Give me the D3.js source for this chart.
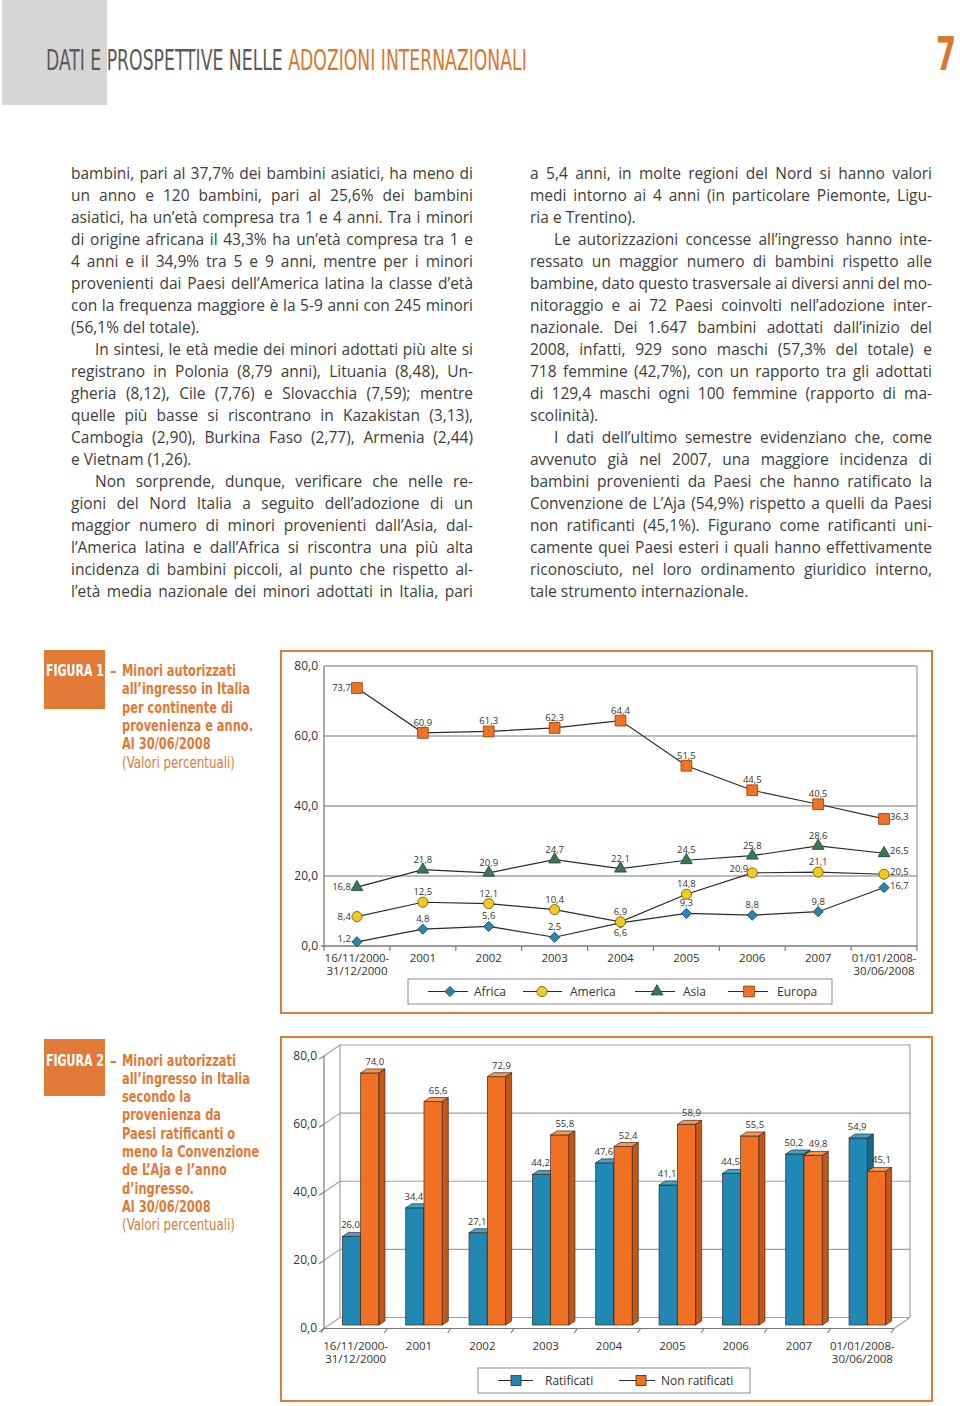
<!DOCTYPE html>
<html><head><meta charset="utf-8">
<script src="https://cdn.jsdelivr.net/npm/d3@7"></script>
<style>
html,body{margin:0;padding:0;background:#fff;}
svg{display:block;}
</style></head>
<body>
<svg id="page" width="960" height="1406"></svg>
<script>
// ---------------- DATA ----------------
const categories = ["16/11/2000-\n31/12/2000","2001","2002","2003","2004","2005","2006","2007","01/01/2008-\n30/06/2008"];
const africa  = [1.2, 4.8, 5.6, 2.5, 6.6, 9.3, 8.8, 9.8, 16.7];
const america = [8.4, 12.5, 12.1, 10.4, 6.9, 14.8, 20.9, 21.1, 20.5];
const asia    = [16.8, 21.8, 20.9, 24.7, 22.1, 24.5, 25.8, 28.6, 26.5];
const europa  = [73.7, 60.9, 61.3, 62.3, 64.4, 51.5, 44.5, 40.5, 36.3];
const ratificati    = [26.0, 34.4, 27.1, 44.2, 47.6, 41.1, 44.5, 50.2, 54.9];
const nonRatificati = [74.0, 65.6, 72.9, 55.8, 52.4, 58.9, 55.5, 49.8, 45.1];
const yTicks = [0, 20, 40, 60, 80];
const seriesNames1 = ["Africa", "America", "Asia", "Europa"];
const seriesNames2 = ["Ratificati", "Non ratificati"];

const headerGrey = "DATI E PROSPETTIVE NELLE ";
const headerOrange = "ADOZIONI INTERNAZIONALI";
const pageNumber = "7";
const fig1Caption = ["Minori autorizzati","all’ingresso in Italia","per continente di","provenienza e anno.","Al 30/06/2008","(Valori percentuali)"];
const fig2Caption = ["Minori autorizzati","all’ingresso in Italia","secondo la","provenienza da","Paesi ratificanti o","meno la Convenzione","de L’Aja e l’anno","d’ingresso.","Al 30/06/2008","(Valori percentuali)"];

const leftLines = [
"bambini, pari al 37,7% dei bambini asiatici, ha meno di",
"un anno e 120 bambini, pari al 25,6% dei bambini",
"asiatici, ha un’età compresa tra 1 e 4 anni. Tra i minori",
"di origine africana il 43,3% ha un’età compresa tra 1 e",
"4 anni e il 34,9% tra 5 e 9 anni, mentre per i minori",
"provenienti dai Paesi dell’America latina la classe d’età",
"con la frequenza maggiore è la 5-9 anni con 245 minori",
"(56,1% del totale).¶",
"§In sintesi, le età medie dei minori adottati più alte si",
"registrano in Polonia (8,79 anni), Lituania (8,48), Un-",
"gheria (8,12), Cile (7,76) e Slovacchia (7,59); mentre",
"quelle più basse si riscontrano in Kazakistan (3,13),",
"Cambogia (2,90), Burkina Faso (2,77), Armenia (2,44)",
"e Vietnam (1,26).¶",
"§Non sorprende, dunque, verificare che nelle re-",
"gioni del Nord Italia a seguito dell’adozione di un",
"maggior numero di minori provenienti dall’Asia, dal-",
"l’America latina e dall’Africa si riscontra una più alta",
"incidenza di bambini piccoli, al punto che rispetto al-",
"l’età media nazionale dei minori adottati in Italia, pari"
];
const rightLines = [
"a 5,4 anni, in molte regioni del Nord si hanno valori",
"medi intorno ai 4 anni (in particolare Piemonte, Ligu-",
"ria e Trentino).¶",
"§Le autorizzazioni concesse all’ingresso hanno inte-",
"ressato un maggior numero di bambini rispetto alle",
"bambine, dato questo trasversale ai diversi anni del mo-",
"nitoraggio e ai 72 Paesi coinvolti nell’adozione inter-",
"nazionale. Dei 1.647 bambini adottati dall’inizio del",
"2008, infatti, 929 sono maschi (57,3% del totale) e",
"718 femmine (42,7%), con un rapporto tra gli adottati",
"di 129,4 maschi ogni 100 femmine (rapporto di ma-",
"scolinità).¶",
"§I dati dell’ultimo semestre evidenziano che, come",
"avvenuto già nel 2007, una maggiore incidenza di",
"bambini provenienti da Paesi che hanno ratificato la",
"Convenzione de L’Aja (54,9%) rispetto a quelli da Paesi",
"non ratificanti (45,1%). Figurano come ratificanti uni-",
"camente quei Paesi esteri i quali hanno effettivamente",
"riconosciuto, nel loro ordinamento giuridico interno,",
"tale strumento internazionale.¶"
];

// ---------------- SETUP ----------------
const svg = d3.select("#page");
const ORANGE = "#e07a36";
const TXT = "#333";
const fmt = v => v.toFixed(1).replace(".", ",");
const COND = "'DejaVu Sans Condensed','Liberation Sans Narrow','DejaVu Sans',sans-serif";
const SANS = "'Open Sans','Noto Sans',sans-serif";

function fitText(sel, x, y, target) {
  const w = sel.node().getComputedTextLength();
  const k = target / w;
  sel.attr("transform", `translate(${x},${y}) scale(${k},1)`);
  return k;
}

// ---------------- HEADER ----------------
svg.append("rect").attr("x", 2).attr("y", 0).attr("width", 105).attr("height", 105).attr("fill", "#d6d6d6");
const title = svg.append("text").attr("font-family", COND).attr("font-stretch", "condensed")
  .attr("font-size", 28).attr("x", 0).attr("y", 0).style("white-space", "pre");
title.append("tspan").attr("fill", "#5a5a5a").text(headerGrey);
title.append("tspan").attr("fill", "#d9772f").text(headerOrange);
fitText(title, 46, 70, 481);
const pn = svg.append("text").attr("font-family", COND).attr("font-weight", "bold")
  .attr("font-size", 46).attr("fill", "#d9772f").text(pageNumber);
fitText(pn, 936, 70, 20);

// ---------------- BODY TEXT ----------------
const measurer = svg.append("text").attr("font-family", SANS).attr("x", -1000).attr("y", -1000);
function wordWidth(w, fs) {
  measurer.attr("font-size", fs).text(w);
  return measurer.node().getComputedTextLength();
}
function parse(lines) {
  return lines.map(l => {
    let indent = false, last = false;
    if (l.startsWith("§")) { indent = true; l = l.slice(1); }
    if (l.endsWith("¶")) { last = true; l = l.slice(0, -1); }
    return {text: l, indent, last, words: l.split(" ")};
  });
}
const colW = 402, indentW = 24;
const pl = parse(leftLines), pr = parse(rightLines);
let fs = 15.5;
for (; fs > 12; fs -= 0.25) {
  let ok = true;
  [...pl, ...pr].forEach(L => {
    if (L.last) return;
    const sum = d3.sum(L.words, w => wordWidth(w, fs));
    const avail = colW - (L.indent ? indentW : 0);
    const gap = (avail - sum) / (L.words.length - 1);
    if (gap < fs * 0.2) ok = false;
  });
  if (ok) break;
}
function drawColumn(parsed, x0) {
  const g = svg.append("g").attr("font-family", SANS).attr("font-size", fs).attr("fill", "#3d3d3d");
  parsed.forEach((L, i) => {
    const y = 178.5 + i * 22.05;
    const xs = x0 + (L.indent ? indentW : 0);
    const widths = L.words.map(w => wordWidth(w, fs));
    const avail = colW - (L.indent ? indentW : 0);
    let gap = L.last ? wordWidth("a a", fs) - 2 * wordWidth("a", fs) : (avail - d3.sum(widths)) / (L.words.length - 1);
    let x = xs;
    const t = g.append("text").attr("y", y);
    L.words.forEach((w, j) => {
      t.append("tspan").attr("x", x).text(w);
      x += widths[j] + gap;
    });
  });
}
drawColumn(pl, 71);
drawColumn(pr, 530);
measurer.remove();

// ---------------- CAPTIONS ----------------
function caption(boxTop, boxH, num, lines, firstBase, lh) {
  svg.append("rect").attr("x", 44).attr("y", boxTop).attr("width", 61).attr("height", boxH).attr("fill", ORANGE);
  const f = svg.append("text").attr("font-family", COND).attr("font-weight", "bold").attr("font-size", 16)
    .attr("fill", "#fff").text("FIGURA " + num);
  fitText(f, 46, firstBase, 58);
  svg.append("text").attr("x", 110).attr("y", firstBase).attr("font-family", COND).attr("font-weight", "bold")
    .attr("font-size", 15).attr("fill", ORANGE).text("–");
  const t0 = svg.append("text").attr("font-family", COND).attr("font-weight", "bold").attr("font-size", 16)
    .attr("fill", ORANGE).text(lines[0]);
  const k = fitText(t0, 122, firstBase, 114);
  lines.slice(1).forEach((l, i) => {
    const isLast = i === lines.length - 2;
    const t = svg.append("text").attr("font-family", COND).attr("font-weight", isLast ? "normal" : "bold")
      .attr("font-size", 16).attr("fill", ORANGE).text(l);
    if (isLast) fitText(t, 122, firstBase + (i + 1) * lh, 113);
    else t.attr("transform", `translate(122,${firstBase + (i + 1) * lh}) scale(${k},1)`);
  });
}
caption(650, 59, 1, fig1Caption, 676, 18.3);
caption(1039, 57, 2, fig2Caption, 1065.5, 18.3);

// ---------------- FRAMES ----------------
svg.append("rect").attr("x", 281).attr("y", 651).attr("width", 651).attr("height", 362)
  .attr("fill", "none").attr("stroke", ORANGE).attr("stroke-width", 2);
svg.append("rect").attr("x", 281).attr("y", 1037).attr("width", 651).attr("height", 364)
  .attr("fill", "none").attr("stroke", ORANGE).attr("stroke-width", 2);

// helper for two-line category labels
function twoLineLabels(axisG, yOff) {
  axisG.selectAll(".tick text").each(function (d) {
    const parts = d.split("\n");
    const t = d3.select(this).text(null).attr("font-family", SANS).attr("font-size", 11.5).attr("fill", TXT)
      .attr("y", yOff).attr("dy", "0.71em");
    parts.forEach((p, i) => t.append("tspan").attr("x", 0).attr("dy", i ? "13" : null).text(p));
  });
}

// ---------------- FIGURE 1 ----------------
const x1s = d3.scaleBand().domain(categories).range([324, 917]);
const y1s = d3.scaleLinear().domain([0, 80]).range([946, 666]);
const cx1 = (i) => x1s(categories[i]) + x1s.bandwidth() / 2;
const f1 = svg.append("g");
f1.append("g").selectAll("line").data(yTicks.filter(v => v > 0)).join("line")
  .attr("x1", 324).attr("x2", 917).attr("y1", d => y1s(d)).attr("y2", d => y1s(d))
  .attr("stroke", "#a3a3a3").attr("stroke-width", 1.3);
f1.append("line").attr("x1", 917).attr("x2", 917).attr("y1", 666).attr("y2", 946).attr("stroke", "#a3a3a3").attr("stroke-width", 1.3);
const ya1 = f1.append("g").attr("transform", "translate(324,0)")
  .call(d3.axisLeft(y1s).tickValues(yTicks).tickFormat(fmt).tickSize(0).tickPadding(6));
ya1.select(".domain").remove();
ya1.selectAll("text").attr("font-family", SANS).attr("font-size", 12).attr("fill", TXT);
f1.append("line").attr("x1", 324).attr("x2", 324).attr("y1", 666).attr("y2", 946).attr("stroke", "#7a7a7a").attr("stroke-width", 1.3);
f1.append("line").attr("x1", 321).attr("x2", 917).attr("y1", 946).attr("y2", 946).attr("stroke", "#7a7a7a").attr("stroke-width", 1.3);
const xa1 = f1.append("g").attr("transform", "translate(0,946)")
  .call(d3.axisBottom(x1s).tickSize(0).tickPadding(8));
xa1.select(".domain").remove();
twoLineLabels(xa1, 8);
f1.append("g").selectAll("line").data(d3.range(10)).join("line")
  .attr("x1", i => 324 + i * x1s.step()).attr("x2", i => 324 + i * x1s.step())
  .attr("y1", 946).attr("y2", 951).attr("stroke", "#7a7a7a").attr("stroke-width", 1.2);

const series1 = [
  {name: "Africa", values: africa, sym: "diamond", fill: "#2b87a8", stroke: "#1b536a"},
  {name: "America", values: america, sym: "circle", fill: "#f3cb1f", stroke: "#6e5c12"},
  {name: "Asia", values: asia, sym: "triangle", fill: "#3b7656", stroke: "#24503a"},
  {name: "Europa", values: europa, sym: "square", fill: "#f07224", stroke: "#9b4414"}
];
function markerPath(sym) {
  if (sym === "diamond") return d3.symbol(d3.symbolSquare, 52)();
  if (sym === "circle") return d3.symbol(d3.symbolCircle, 80)();
  if (sym === "triangle") return d3.symbol(d3.symbolTriangle, 60)();
  return d3.symbol(d3.symbolSquare, 116)();
}
function markerTransform(sym, x, y) {
  return sym === "diamond" ? `translate(${x},${y}) rotate(45)` : `translate(${x},${y})`;
}
const line1 = d3.line().x((d, i) => cx1(i)).y(d => y1s(d));
function labelPos(name, i) {
  if (i === 0) return "left";
  if (i === 8) return "right";
  if (name === "Africa" && i === 4) return "below";
  if (name === "America" && i === 6) return "upleft";
  return "above";
}
series1.forEach(s => {
  f1.append("path").attr("d", line1(s.values)).attr("fill", "none").attr("stroke", "#2a2a2a").attr("stroke-width", 1.2);
});
["Europa", "Asia", "Africa", "America"].forEach(n => {
  const s = series1.find(d => d.name === n);
  f1.append("g").selectAll("path").data(s.values).join("path")
    .attr("d", markerPath(s.sym))
    .attr("transform", (d, i) => markerTransform(s.sym, cx1(i), y1s(d)))
    .attr("fill", s.fill).attr("stroke", s.stroke).attr("stroke-width", 0.9);
});
series1.forEach(s => {
  f1.append("g").selectAll("text").data(s.values).join("text")
    .attr("font-family", SANS).attr("font-size", 9.5).attr("fill", TXT)
    .each(function (d, i) {
      const p = labelPos(s.name, i), x = cx1(i), y = y1s(d), t = d3.select(this);
      if (p === "left") t.attr("x", x - 6).attr("y", y + (i === 0 && s.name === "Africa" ? 0 : 3)).attr("text-anchor", "end");
      else if (p === "right") t.attr("x", x + 6).attr("y", y + 1).attr("text-anchor", "start");
      else if (p === "below") t.attr("x", x).attr("y", y + 13).attr("text-anchor", "middle");
      else if (p === "upleft") t.attr("x", x - 4).attr("y", y - 1).attr("text-anchor", "end");
      else t.attr("x", x).attr("y", y - 7).attr("text-anchor", "middle");
    })
    .text(d => fmt(d));
});
f1.append("rect").attr("x", 408).attr("y", 979).attr("width", 424).attr("height", 25)
  .attr("fill", "#fff").attr("stroke", "#8a8a8a").attr("stroke-width", 1);
const leg1 = [
  {x1: 428, x2: 468, mx: 450, tx: 474},
  {x1: 523, x2: 562, mx: 542, tx: 570},
  {x1: 635, x2: 675, mx: 657, tx: 683},
  {x1: 728, x2: 768, mx: 749, tx: 777}
];
series1.forEach((s, i) => {
  const L = leg1[i], y = 991.5;
  f1.append("line").attr("x1", L.x1).attr("x2", L.x2).attr("y1", y).attr("y2", y).attr("stroke", "#2a2a2a").attr("stroke-width", 1.2);
  f1.append("path").attr("d", markerPath(s.sym)).attr("transform", markerTransform(s.sym, L.mx, y))
    .attr("fill", s.fill).attr("stroke", s.stroke).attr("stroke-width", 0.9);
  f1.append("text").attr("x", L.tx).attr("y", y + 4.5).attr("font-family", SANS).attr("font-size", 12)
    .attr("fill", TXT).text(seriesNames1[i]);
});

// ---------------- FIGURE 2 (3D bars) ----------------
const DX = 16, DY = -11;
const x2s = d3.scaleBand().domain(categories).range([324, 894]);
const y2s = d3.scaleLinear().domain([0, 80]).range([1328.5, 1056]);
const f2 = svg.append("g");
const WALL = "#a0a0a0";
f2.append("g").selectAll("line").data(yTicks).join("line")
  .attr("x1", 324 + DX).attr("x2", 894 + DX).attr("y1", d => y2s(d) + DY).attr("y2", d => y2s(d) + DY)
  .attr("stroke", WALL).attr("stroke-width", 1.2);
f2.append("line").attr("x1", 894 + DX).attr("x2", 894 + DX).attr("y1", y2s(80) + DY).attr("y2", y2s(0) + DY).attr("stroke", WALL).attr("stroke-width", 1.2);
f2.append("line").attr("x1", 324 + DX).attr("x2", 324 + DX).attr("y1", y2s(80) + DY).attr("y2", y2s(0) + DY).attr("stroke", WALL).attr("stroke-width", 1.2);
f2.append("g").selectAll("line").data(yTicks).join("line")
  .attr("x1", 324).attr("x2", 324 + DX).attr("y1", d => y2s(d)).attr("y2", d => y2s(d) + DY)
  .attr("stroke", WALL).attr("stroke-width", 1.2);
f2.append("line").attr("x1", 894).attr("x2", 894 + DX).attr("y1", y2s(0)).attr("y2", y2s(0) + DY).attr("stroke", WALL).attr("stroke-width", 1.2);
f2.append("line").attr("x1", 324).attr("x2", 894).attr("y1", y2s(0)).attr("y2", y2s(0)).attr("stroke", "#777").attr("stroke-width", 1.2);
f2.append("line").attr("x1", 324).attr("x2", 324).attr("y1", y2s(80)).attr("y2", y2s(0)).attr("stroke", "#777").attr("stroke-width", 1.2);
f2.append("g").selectAll("line").data(yTicks).join("line")
  .attr("x1", 324).attr("x2", 319).attr("y1", d => y2s(d)).attr("y2", d => y2s(d) + 3.4)
  .attr("stroke", "#777").attr("stroke-width", 1.1);
const ya2 = f2.append("g").attr("transform", "translate(324,0)")
  .call(d3.axisLeft(y2s).tickValues(yTicks).tickFormat(fmt).tickSize(0).tickPadding(7));
ya2.select(".domain").remove();
ya2.selectAll("text").attr("font-family", SANS).attr("font-size", 12).attr("fill", TXT).attr("dy", "0.25em");
f2.append("g").selectAll("line").data(d3.range(10)).join("line")
  .attr("x1", i => 324 + i * x2s.step()).attr("x2", i => 324 + i * x2s.step() - 3)
  .attr("y1", y2s(0)).attr("y2", y2s(0) + 4.5).attr("stroke", "#777").attr("stroke-width", 1.1);
const xa2 = f2.append("g").attr("transform", `translate(0,${y2s(0)})`)
  .call(d3.axisBottom(x2s).tickSize(0).tickPadding(12));
xa2.select(".domain").remove();
twoLineLabels(xa2, 13);
const BW = 18.3, BOX = 5, BOY = -3.5, BDX = 6, BDY = -4;
const colBlue = {front: "#2088b2", top: "#3fa3cc", side: "#17698a"};
const colOrange = {front: "#f17124", top: "#f79552", side: "#c65616"};
function bar(g, x, v, c) {
  const y0 = y2s(0) + BOY, yt = y2s(v) + BOY, xr = x + BW;
  g.append("rect").attr("x", x).attr("y", yt).attr("width", BW).attr("height", y0 - yt)
    .attr("fill", c.front).attr("stroke", "#3a2a22").attr("stroke-width", 0.7);
  g.append("path").attr("d", `M${x},${yt}L${xr},${yt}L${xr + BDX},${yt + BDY}L${x + BDX},${yt + BDY}Z`)
    .attr("fill", c.top).attr("stroke", "#3a2a22").attr("stroke-width", 0.7);
  g.append("path").attr("d", `M${xr},${yt}L${xr + BDX},${yt + BDY}L${xr + BDX},${y0 + BDY}L${xr},${y0}Z`)
    .attr("fill", c.side).attr("stroke", "#3a2a22").attr("stroke-width", 0.7);
}
const bars = f2.append("g");
categories.forEach((c, i) => {
  const center = x2s(c) + x2s.bandwidth() / 2 + BOX;
  bar(bars, center - BW, ratificati[i], colBlue);
  bar(bars, center, nonRatificati[i], colOrange);
  bars.append("text").attr("x", center - BW / 2 - 1).attr("y", y2s(ratificati[i]) + BOY - 8)
    .attr("text-anchor", "middle").attr("font-family", SANS).attr("font-size", 9.5).attr("fill", TXT).text(fmt(ratificati[i]));
  bars.append("text").attr("x", center + BW / 2 + 5).attr("y", y2s(nonRatificati[i]) + BOY - 8)
    .attr("text-anchor", "middle").attr("font-family", SANS).attr("font-size", 9.5).attr("fill", TXT).text(fmt(nonRatificati[i]));
});
f2.append("rect").attr("x", 478).attr("y", 1368).attr("width", 272).attr("height", 25)
  .attr("fill", "#fff").attr("stroke", "#8a8a8a").attr("stroke-width", 1);
const leg2 = [
  {x1: 498, x2: 533, mx: 516, tx: 545, c: colBlue},
  {x1: 619, x2: 655, mx: 641, tx: 661, c: colOrange}
];
leg2.forEach((L, i) => {
  const y = 1380.5;
  f2.append("line").attr("x1", L.x1).attr("x2", L.x2).attr("y1", y).attr("y2", y).attr("stroke", "#2a2a2a").attr("stroke-width", 1.2);
  f2.append("rect").attr("x", L.mx - 5).attr("y", y - 5).attr("width", 10).attr("height", 10)
    .attr("fill", L.c.front).attr("stroke", "#3a2a22").attr("stroke-width", 0.8);
  f2.append("text").attr("x", L.tx).attr("y", y + 4.5).attr("font-family", SANS).attr("font-size", 12)
    .attr("fill", TXT).text(seriesNames2[i]);
});
</script>
</body></html>
